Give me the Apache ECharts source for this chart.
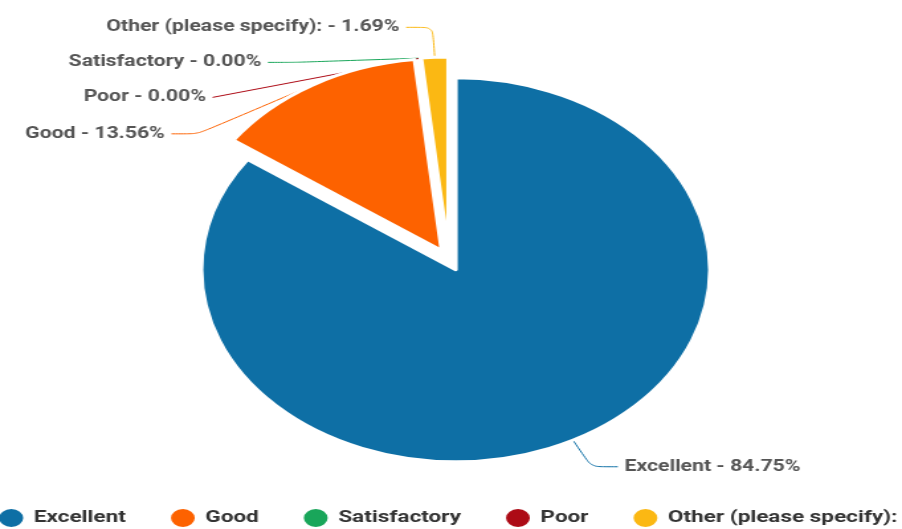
<!DOCTYPE html>
<html>
<head>
<meta charset="utf-8">
<title>Survey rating</title>
<script src="https://cdn.jsdelivr.net/npm/echarts@6/dist/echarts.min.js"></script>
<style>
  html, body { margin: 0; padding: 0; background: #fff; overflow: hidden; }
  /* the source picture is stretched sideways, so the chart is drawn narrow and widened */
  #main { width: 681px; height: 529px; transform: scaleX(1.3245); transform-origin: 0 0; }
</style>
</head>
<body>
<div id="main"></div>
<script>
// response counts per rating
const categories = ['Excellent', 'Good', 'Satisfactory', 'Poor', 'Other (please specify):']
const counts = [50, 8, 0, 0, 1]
const colors = ['#0e6fa5', '#fd6200', '#19a65a', '#ad0b16', '#fbb813']

const chart = echarts.init(document.getElementById('main'))

const data = categories.map((name, i) => ({
  name: name,
  value: counts[i],
  selected: true
}))

chart.setOption({
  animation: false,
  color: colors,
  legend: {
    left: -2.5,
    top: 507,
    width: 900,
    padding: 0,
    icon: 'circle',
    itemWidth: 24,
    itemHeight: 20,
    itemGap: 32,
    selectedMode: false,
    textStyle: {
      fontFamily: 'Roboto',
      fontWeight: 'bold',
      fontSize: 17,
      color: '#333'
    }
  },
  series: [{
    type: 'pie',
    center: [339, 260],
    radius: 192,
    startAngle: 90,
    selectedMode: 'multiple',
    selectedOffset: 11,
    avoidLabelOverlap: true,
    itemStyle: {
      borderColor: '#fff',
      borderWidth: 3
    },
    select: {
      itemStyle: { borderColor: '#fff', borderWidth: 3 }
    },
    label: {
      show: true,
      formatter: p => p.name + ' - ' + p.percent.toFixed(2) + '%',
      fontFamily: 'Roboto',
      fontWeight: 'bold',
      fontSize: 16,
      lineHeight: 33,
      color: '#555'
    },
    labelLine: {
      show: true,
      length: 30,
      length2: 20,
      smooth: 0.2,
      lineStyle: { width: 1 }
    },
    data: data
  }]
})
</script>
</body>
</html>
